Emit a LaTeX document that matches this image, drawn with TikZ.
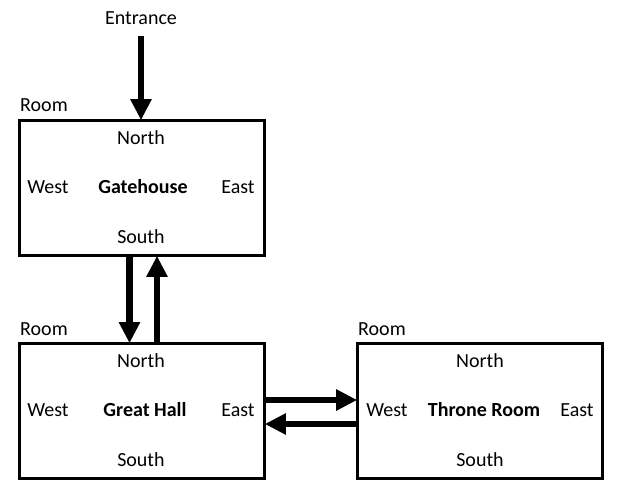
\documentclass[tikz,border=0pt]{standalone}
\usepackage{fontspec}
\setmainfont{Carlito}
\usetikzlibrary{arrows.meta}
\begin{document}
\begin{tikzpicture}[x=1pt,y=-1pt,
  every node/.style={font=\fontsize{20}{24}\selectfont, inner sep=0pt, anchor=center},
  room/.style={draw, line width=2.6pt, minimum width=245pt, minimum height=135pt},
  bigarrow/.style={line width=6.5pt, -{Triangle[length=21pt,width=20pt]}, shorten >=-1pt}]
\useasboundingbox (0,0) rectangle (620,490);
\node[room] (gh) at (142,188) {};
\node[room] (hall) at (142,411) {};
\node[room] (thr) at (480,411) {};
% Gatehouse
\node (ghlab) at (44,105) {Room};
\node (ghn) at (141,138) {North};
\node (ghw) at (48,187) {West};
\node (ghc) at (143,187) {\bfseries Gatehouse};
\node (ghe) at (238,187) {East};
\node (ghs) at (141,237) {South};
% Great Hall
\node (halllab) at (44,329) {Room};
\node (halln) at (141,361) {North};
\node (hallw) at (48,410) {West};
\node (hallc) at (145,410) {\bfseries Great Hall};
\node (halle) at (238,410) {East};
\node (halls) at (141,460) {South};
% Throne Room
\node (thrlab) at (382,329) {Room};
\node (thrn) at (480,361) {North};
\node (thrw) at (387,410) {West};
\node (thrc) at (484,410) {\bfseries Throne Room};
\node (thre) at (577,410) {East};
\node (thrs) at (480,460) {South};
% Entrance
\node (ent) at (141,18) {Entrance};
\coordinate (entstart) at (141,36);
\draw[bigarrow] (entstart) -- (gh.north -| entstart);
% vertical arrows
\draw[bigarrow] ([xshift=-12.5pt]gh.south) -- ([xshift=-12.5pt]hall.north);
\draw[bigarrow] ([xshift=15pt]hall.north) -- ([xshift=15pt]gh.south);
% horizontal arrows
\draw[bigarrow] ([yshift=11pt]hall.east) -- ([yshift=11pt]thr.west);
\draw[bigarrow] ([yshift=-13pt]thr.west) -- ([yshift=-13pt]hall.east);
\end{tikzpicture}
\end{document}
